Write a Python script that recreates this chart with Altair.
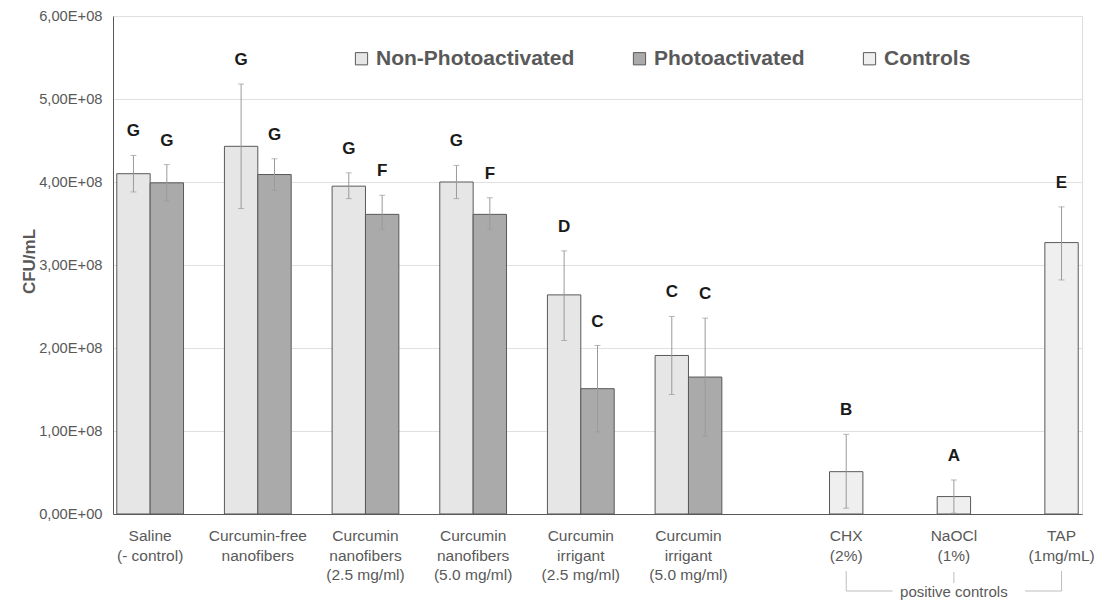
import altair as alt
import pandas as pd

# ---------------- data ----------------
categories = [
    "Saline\n(- control)",
    "Curcumin-free\nnanofibers",
    "Curcumin\nnanofibers\n(2.5 mg/ml)",
    "Curcumin\nnanofibers\n(5.0 mg/ml)",
    "Curcumin\nirrigant\n(2.5 mg/ml)",
    "Curcumin\nirrigant\n(5.0 mg/ml)",
    "CHX\n(2%)",
    "NaOCl\n(1%)",
    "TAP\n(1mg/mL)",
]
series_names = ["Non-Photoactivated", "Photoactivated", "Controls"]

np_values = [4.10e8, 4.43e8, 3.95e8, 4.00e8, 2.64e8, 1.91e8]
np_err_hi = [4.32e8, 5.18e8, 4.11e8, 4.20e8, 3.17e8, 2.38e8]
np_err_lo = [3.88e8, 3.68e8, 3.80e8, 3.80e8, 2.09e8, 1.44e8]
np_letters = ["G", "G", "G", "G", "D", "C"]

p_values = [3.99e8, 4.09e8, 3.61e8, 3.61e8, 1.51e8, 1.65e8]
p_err_hi = [4.21e8, 4.28e8, 3.84e8, 3.81e8, 2.03e8, 2.36e8]
p_err_lo = [3.77e8, 3.90e8, 3.43e8, 3.43e8, 0.99e8, 0.94e8]
p_letters = ["G", "G", "F", "F", "C", "C"]

ctrl_values = [0.51e8, 0.21e8, 3.27e8]
ctrl_err_hi = [0.96e8, 0.41e8, 3.70e8]
ctrl_err_lo = [0.07e8, 0.01e8, 2.82e8]
ctrl_letters = ["B", "A", "E"]

y_ticks = [0, 1e8, 2e8, 3e8, 4e8, 5e8, 6e8]
bracket_label = "positive controls"

# ---------------- layout helpers (category units) ----------------
GAP = 0.035      # half of the gap between category groups
SLOT = 0.31      # width of one bar slot

rows = []
def add(series, slot, cat_idx, vals, his, los, letters):
    for k, (v, h, l, t) in enumerate(zip(vals, his, los, letters)):
        i = cat_idx[k]
        x0 = i + GAP + slot * SLOT
        rows.append(dict(series=series, cat=categories[i], x0=x0, x1=x0 + SLOT,
                         xc=x0 + SLOT / 2, value=v, hi=h, lo=l, letter=t))

add(series_names[0], 0, list(range(6)), np_values, np_err_hi, np_err_lo, np_letters)
add(series_names[1], 1, list(range(6)), p_values, p_err_hi, p_err_lo, p_letters)
add(series_names[2], 2, [6, 7, 8], ctrl_values, ctrl_err_hi, ctrl_err_lo, ctrl_letters)
df = pd.DataFrame(rows)

label_pos = [i + GAP + SLOT for i in range(6)] + [i + GAP + 2.5 * SLOT for i in (6, 7, 8)]
df_labels = pd.DataFrame({"label": categories, "pos": label_pos})

ctrl_centers = [i + GAP + 2.5 * SLOT for i in (6, 7, 8)]
TEXT_GAP = 0.57
df_vert_outer = pd.DataFrame({"x": [ctrl_centers[0], ctrl_centers[2]]})
df_vert_mid = pd.DataFrame({"x": [ctrl_centers[1]]})
df_horiz = pd.DataFrame({
    "x": [ctrl_centers[0], ctrl_centers[1] + TEXT_GAP + 0.09],
    "x2": [ctrl_centers[1] - TEXT_GAP, ctrl_centers[2]],
})
df_btext = pd.DataFrame({"x": [ctrl_centers[1]], "t": [bracket_label]})

W, H = 969, 498
FONT = "Liberation Sans"
GREY = "#595959"

xscale = alt.Scale(domain=[0, 9], nice=False, zero=False)
yscale = alt.Scale(domain=[0, 6e8], nice=False)

base = alt.Chart(df)

bars = base.mark_bar(stroke=GREY, strokeWidth=1).encode(
    x=alt.X("x0:Q", scale=xscale,
            axis=alt.Axis(labels=False, ticks=False, grid=False, title=None,
                          domainColor=GREY, domainWidth=1)),
    x2="x1:Q",
    y=alt.Y("value:Q", scale=yscale,
            axis=alt.Axis(values=y_ticks, title="CFU/mL", ticks=False,
                          labelExpr="datum.value == 0 ? '0,00E+00' : replace(format(datum.value / 1e8, '.2f'), '.', ',') + 'E+08'",
                          labelFont=FONT, labelFontSize=14.7, labelColor=GREY,
                          labelPadding=11, domainColor=GREY,
                          gridColor="#e0e0e0", titleFont=FONT, titleFontSize=17,
                          titleFontWeight="bold", titleColor=GREY,
                          titleX=-84, titleY=H / 2 - 4, titleBaseline="middle",
                          titleAngle=-90)),
    y2=alt.datum(0),
    color=alt.Color("series:N",
                    scale=alt.Scale(domain=series_names,
                                    range=["#e6e6e6", "#aaaaaa", "#efefef"]),
                    legend=alt.Legend(title=None, orient="none", direction="horizontal",
                                      legendX=238, legendY=32, symbolType="square",
                                      symbolSize=150, symbolStrokeColor=GREY,
                                      symbolStrokeWidth=1, labelFont=FONT,
                                      labelFontSize=21, labelFontWeight="bold",
                                      labelColor=GREY, columnPadding=54,
                                      labelOffset=4, padding=0, labelLimit=400)),
)

err = base.mark_rule(color="#9a9a9a", strokeWidth=1).encode(
    x="xc:Q", y="lo:Q", y2="hi:Q")
cap_hi = base.mark_tick(orient="horizontal", color="#9a9a9a", size=6, thickness=1).encode(
    x="xc:Q", y="hi:Q")
cap_lo = base.mark_tick(orient="horizontal", color="#9a9a9a", size=6, thickness=1).encode(
    x="xc:Q", y="lo:Q")

letters = base.mark_text(font=FONT, fontSize=17, fontWeight="bold", color="#1a1a1a",
                         baseline="middle", dy=-24).encode(
    x="xc:Q", y="hi:Q", text="letter:N")

xlabels = alt.Chart(df_labels).mark_text(font=FONT, fontSize=15.5, color=GREY,
                                         baseline="top", lineBreak="\n",
                                         lineHeight=19.5, align="center").encode(
    x="pos:Q", y=alt.value(H + 15), text="label:N")

BR = "#bdbdbd"
vert_outer = alt.Chart(df_vert_outer).mark_rule(color=BR).encode(
    x="x:Q", y=alt.value(555), y2=alt.value(575))
vert_mid = alt.Chart(df_vert_mid).mark_rule(color=BR).encode(
    x="x:Q", y=alt.value(556), y2=alt.value(567))
horiz = alt.Chart(df_horiz).mark_rule(color=BR).encode(
    x="x:Q", x2="x2:Q", y=alt.value(575))
btext = alt.Chart(df_btext).mark_text(font=FONT, fontSize=15, color=GREY,
                                      baseline="middle").encode(
    x="x:Q", y=alt.value(576), text="t:N")

chart = alt.layer(bars, err, cap_hi, cap_lo, letters, xlabels,
                  vert_outer, vert_mid, horiz, btext).properties(
    width=W, height=H,
    padding={"left": 12, "top": 0, "right": 0, "bottom": 0},
).configure_view(stroke="#8c8c8c", strokeWidth=1).configure(background="white")

chart.save("out.html", embed_options={"renderer": "svg", "actions": False})
